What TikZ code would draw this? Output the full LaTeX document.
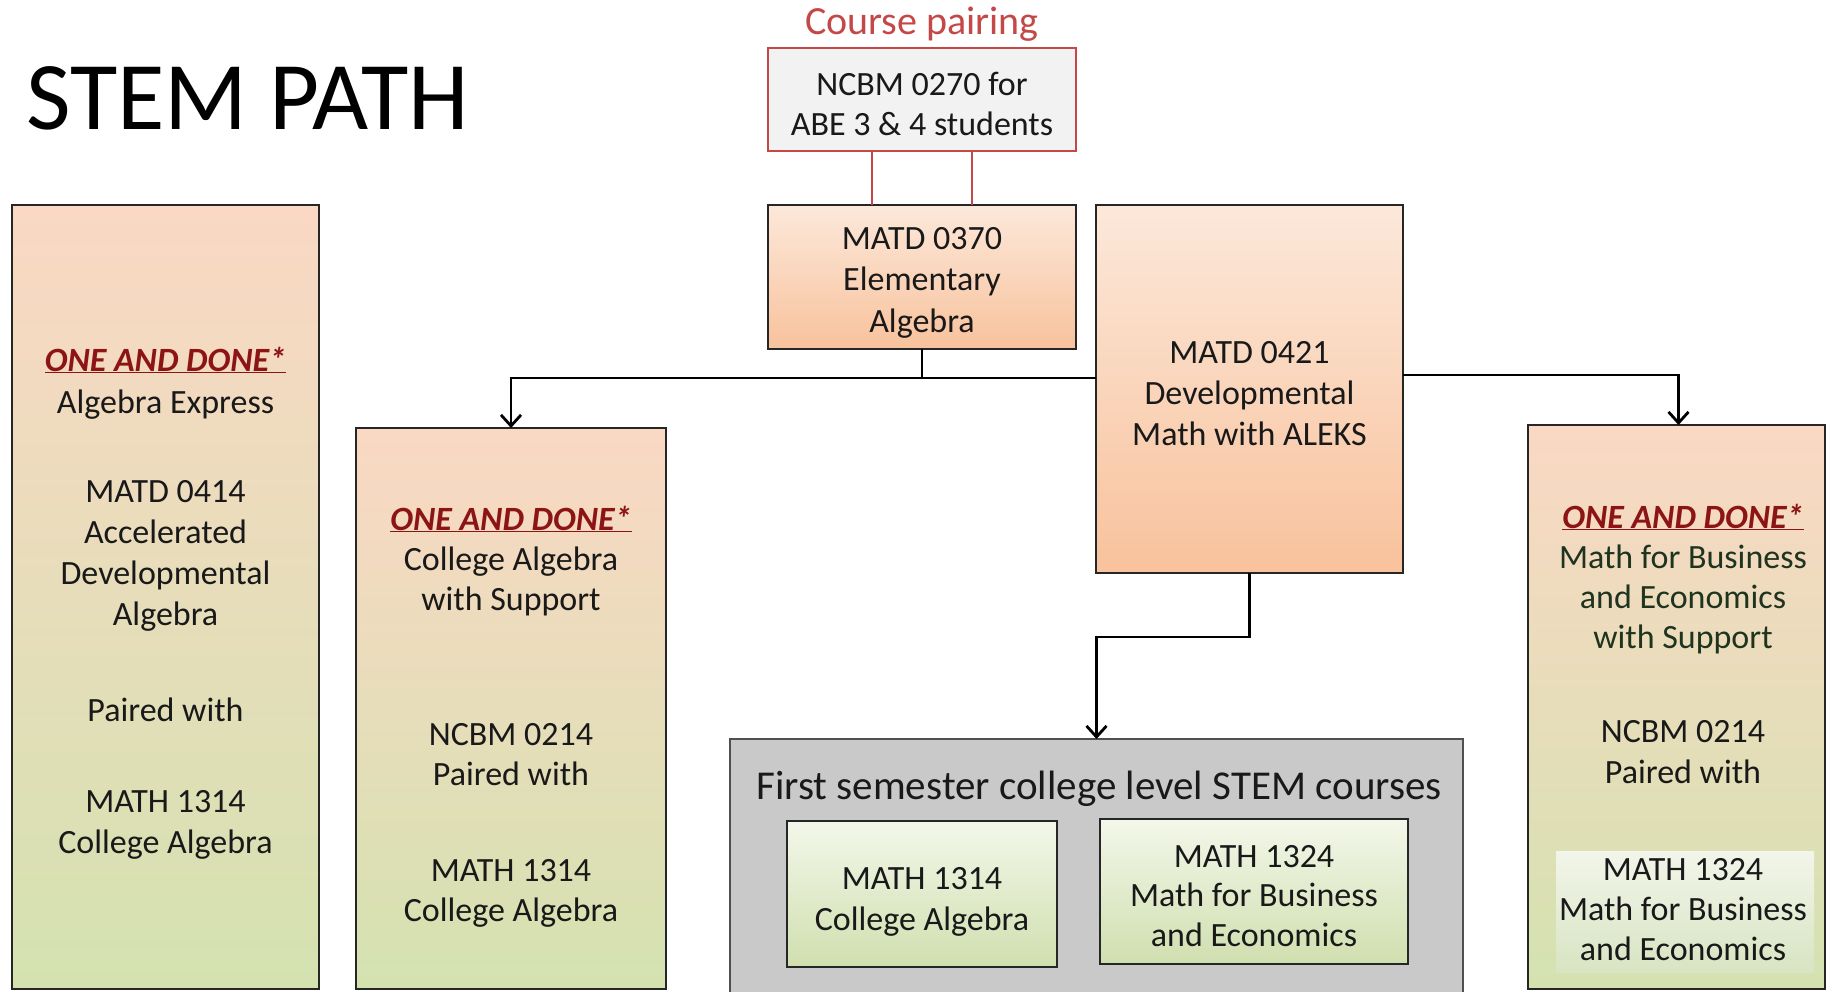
\documentclass[tikz,border=0pt]{standalone}
\usepackage{fontspec}
\setmainfont{Carlito}
\usetikzlibrary{arrows.meta}
\definecolor{peachtop}{RGB}{250,216,196}
\definecolor{peachbot}{RGB}{212,226,176}
\definecolor{ortop}{RGB}{252,232,218}
\definecolor{orbot}{RGB}{248,194,156}
\definecolor{grtop}{RGB}{243,247,234}
\definecolor{grbot}{RGB}{208,223,175}
\definecolor{lighttop}{RGB}{242,245,234}
\definecolor{lightbot}{RGB}{216,228,194}
\definecolor{grayfill}{RGB}{201,201,201}
\definecolor{grayline}{RGB}{80,80,80}
\definecolor{pairred}{RGB}{196,72,72}
\definecolor{oadred}{RGB}{140,20,20}
\definecolor{textc}{RGB}{25,25,25}
\definecolor{dkgreen}{RGB}{30,52,30}
\newcommand{\oad}{{\bfseries\itshape\color{oadred}\underline{ONE AND DONE*}}}
\begin{document}
\begin{tikzpicture}[x=1pt,y=-1pt,
  box/.style={draw=black!85, line width=2.2pt, anchor=north west, inner sep=0pt, outer sep=0pt},
  peachbox/.style={box, top color=peachtop, bottom color=peachbot},
  orbox/.style={box, top color=ortop, bottom color=orbot},
  grbox/.style={box, top color=grtop, bottom color=grbot},
  txt/.style={font=\fontsize{34}{41}\selectfont, align=center, inner sep=0pt, anchor=base, text=textc},
  conn/.style={line width=2.8pt, draw=black},
  arr/.style={conn, -{Straight Barb[length=11pt,width=20pt]}},
  pairline/.style={draw=pairred, line width=2.2pt}]
\useasboundingbox (0,0) rectangle (1826,992);
\fill[white] (0,0) rectangle (1826,992);
\begin{scope}
\clip (0,0) rectangle (1826,992);
% title
\node[anchor=base west, inner sep=0pt, font=\fontsize{97}{100}\selectfont, text=black] (title) at (26,130) {STEM PATH};
% course pairing
\node[txt, font=\fontsize{40}{46}\selectfont, text=pairred] (cp) at (922,35) {Course pairing};
\node[box, draw=pairred, fill=black!5, minimum width=308pt, minimum height=103pt] (ncbm) at (768,48) {};
\node[txt, font=\fontsize{34}{40}\selectfont] (ncbmt) at (922,136) {NCBM 0270 for\\ABE 3 \& 4 students};
% top boxes
\node[orbox, minimum width=308pt, minimum height=144pt] (m370) at (768,205) {};
\node[txt] (m370t) at (922,332) {MATD 0370\\Elementary\\Algebra};
\node[orbox, minimum width=307pt, minimum height=368pt] (m421) at (1096,205) {};
\node[txt] (m421t) at (1249.5,445) {MATD 0421\\Developmental\\Math with ALEKS};
% pairing lines
\draw[pairline] ([xshift=-50pt]ncbm.south) -- ([xshift=-50pt]m370.north);
\draw[pairline] ([xshift=50pt]ncbm.south) -- ([xshift=50pt]m370.north);
% left box
\node[peachbox, minimum width=307pt, minimum height=784pt] (b1) at (12,205) {};
\node[txt, font=\fontsize{34}{42}\selectfont] (b1a) at (165.5,413) {\oad\\Algebra Express};
\node[txt] (b1b) at (165.5,625) {MATD 0414\\Accelerated\\Developmental\\Algebra};
\node[txt] (b1c) at (165.5,721) {Paired with};
\node[txt] (b1d) at (165.5,853) {MATH 1314\\College Algebra};
% second box
\node[peachbox, minimum width=310pt, minimum height=561pt] (b2) at (356,428) {};
\node[txt, font=\fontsize{34}{40}\selectfont] (b2a) at (511,610) {\oad\\College Algebra\\with Support};
\node[txt, font=\fontsize{34}{40}\selectfont] (b2b) at (511,785) {NCBM 0214\\Paired with};
\node[txt, font=\fontsize{34}{40}\selectfont] (b2c) at (511,921) {MATH 1314\\College Algebra};
% right box
\node[peachbox, minimum width=297pt, minimum height=564pt] (b3) at (1528,425) {};
\node[anchor=north west, inner sep=0pt, minimum width=258pt, minimum height=121pt, top color=lighttop, bottom color=lightbot] (b3hl) at (1556,851) {};
\node[txt, font=\fontsize{34}{40}\selectfont, text=dkgreen] (b3a) at (1683,648) {\oad\\Math for Business\\and Economics\\with Support};
\node[txt, font=\fontsize{34}{41}\selectfont] (b3b) at (1683,783) {NCBM 0214\\Paired with};
\node[txt, font=\fontsize{34}{40}\selectfont] (b3c) at (1683,960) {MATH 1324\\Math for Business\\and Economics};
% gray box
\node[box, draw=grayline, fill=grayfill, minimum width=733pt, minimum height=280pt] (gray) at (730,739) {};
\node[txt, font=\fontsize{41}{46}\selectfont] (grayt) at (1099,799) {First semester college level STEM courses};
\node[grbox, minimum width=270pt, minimum height=146pt] (in1) at (787,821) {};
\node[txt] (in1t) at (922,930) {MATH 1314\\College Algebra};
\node[grbox, minimum width=308pt, minimum height=145pt] (in2) at (1100,819) {};
\node[txt, font=\fontsize{34}{39.5}\selectfont] (in2t) at (1254,946) {MATH 1324\\Math for Business\\and Economics};
% connectors
\coordinate (busy) at (0,378);
\coordinate (rbusy) at (0,375);
\coordinate (jog) at (0,637);
\draw[conn] (m370.south) -- (m370.south |- busy);
\draw[arr] (m421.west |- busy) -| (b2.north);
\draw[arr] (m421.east |- rbusy) -| ([xshift=2pt]b3.north);
\draw[arr] (m421.south) -- (m421.south |- jog) -| (gray.north);
\end{scope}
\end{tikzpicture}
\end{document}
